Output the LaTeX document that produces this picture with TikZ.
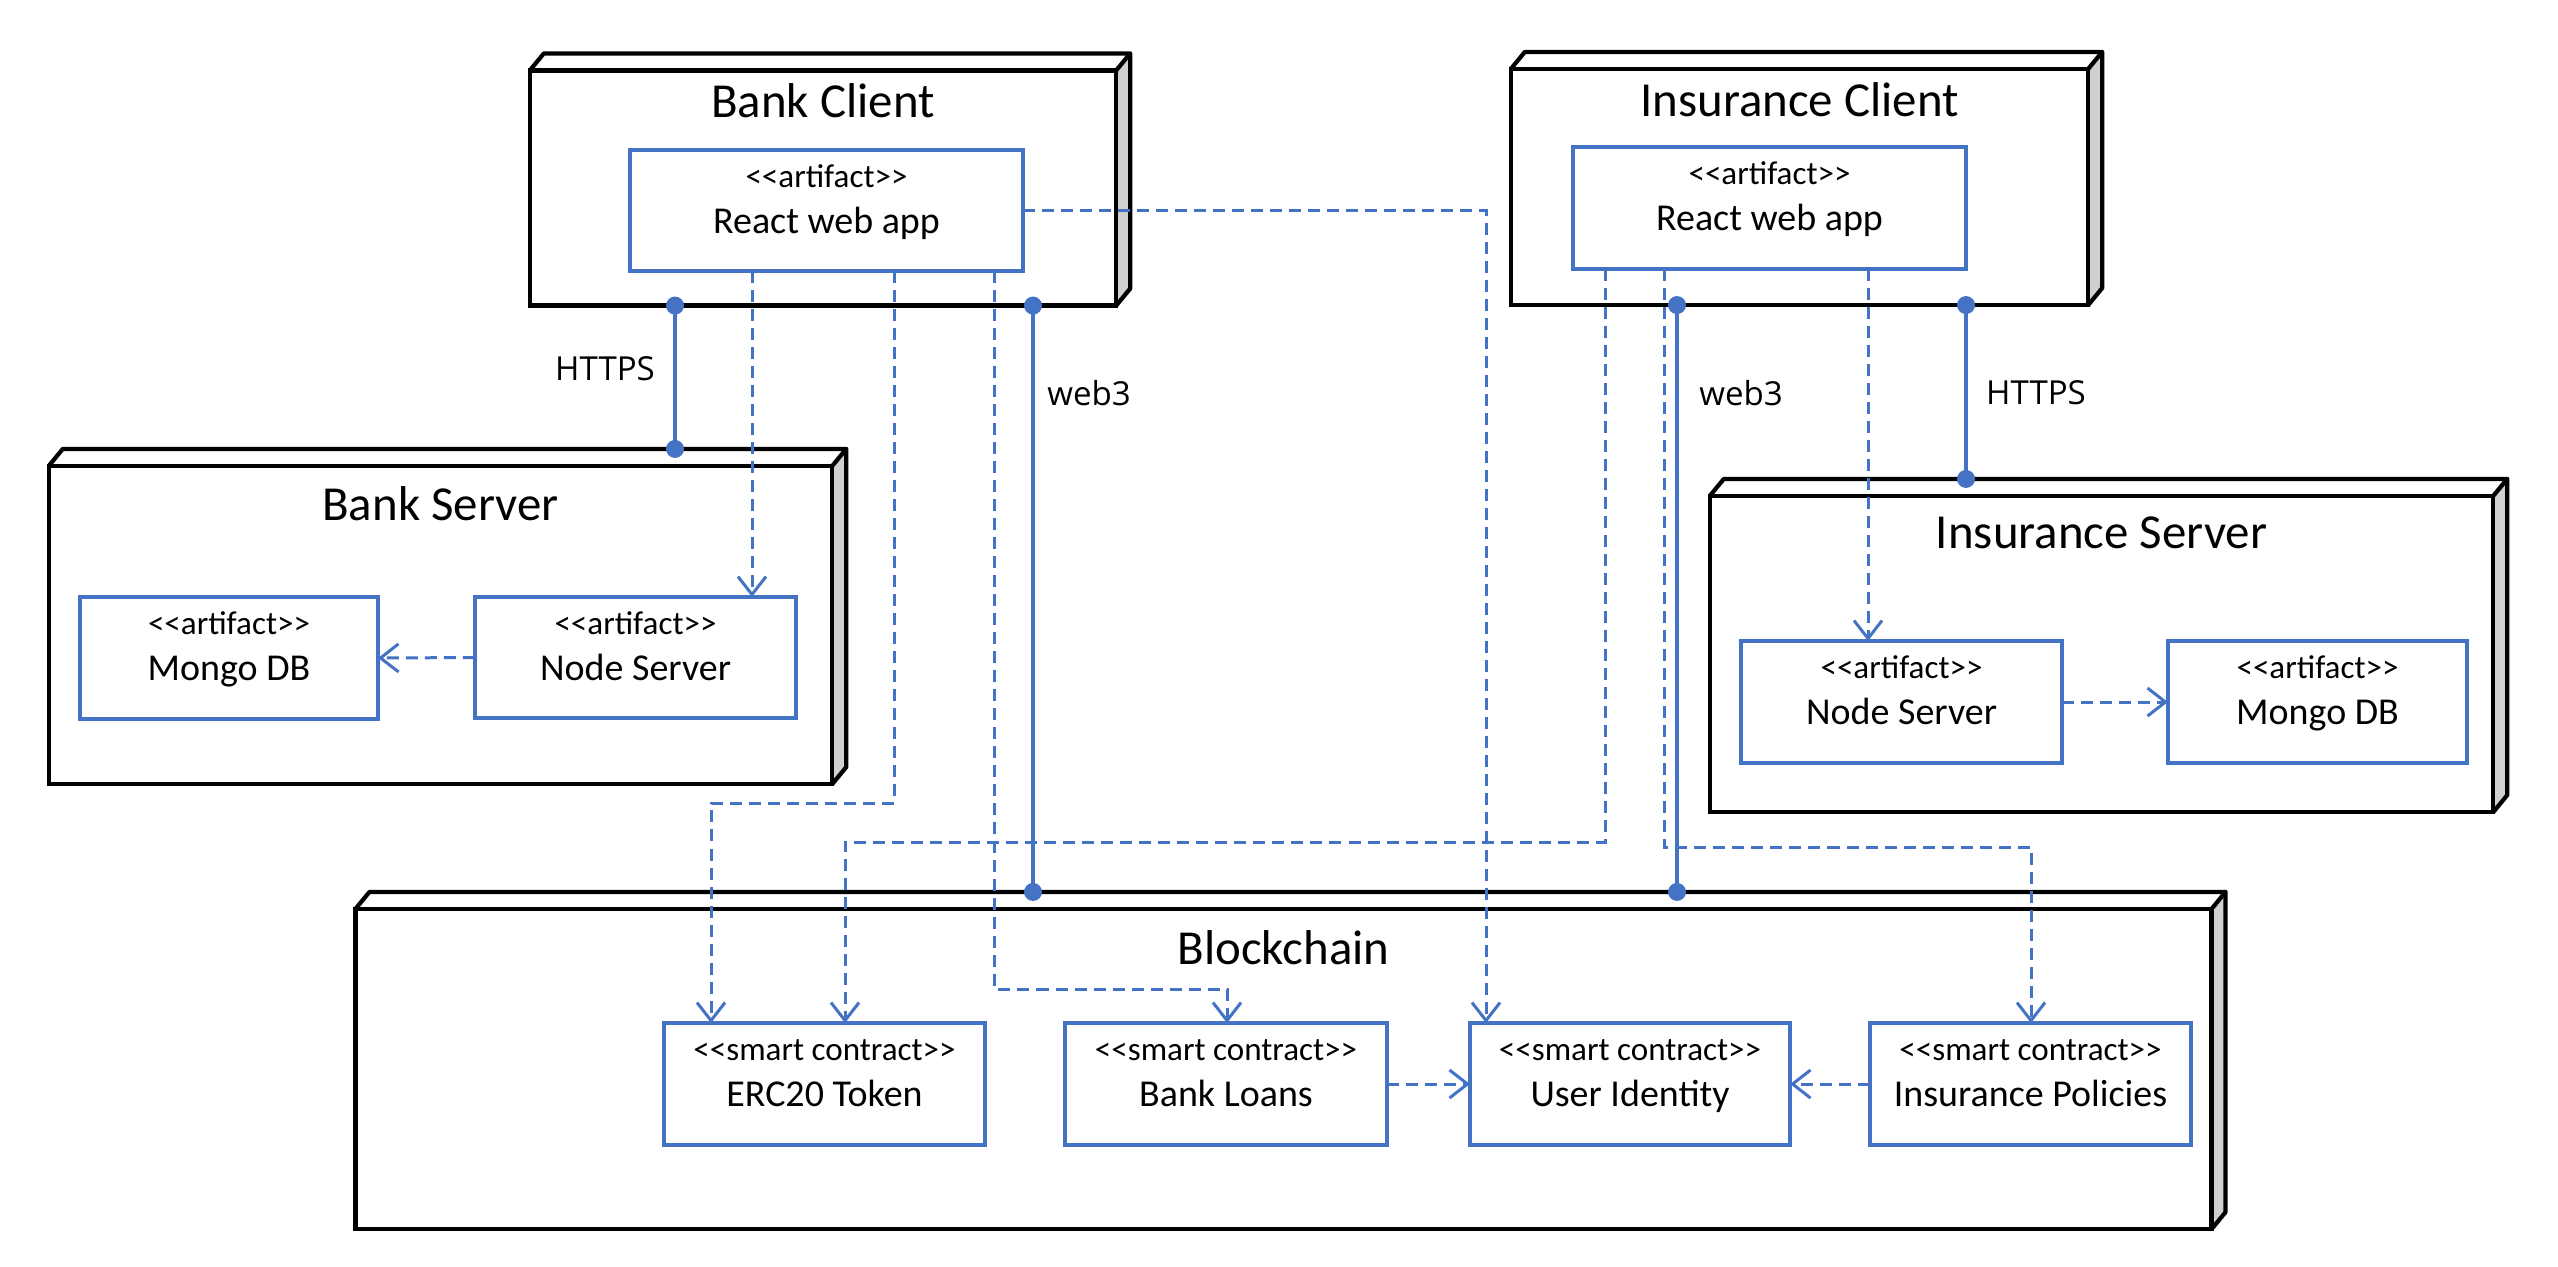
\documentclass[tikz,border=0pt]{standalone}
\usepackage{fontspec}
\setmainfont{Carlito}
\newfontfamily\lblfont{Open Sans}
\usetikzlibrary{arrows.meta,calc}
\definecolor{ublue}{HTML}{4472C4}
\definecolor{sidegray}{HTML}{D0D0D0}
\newcommand\stereo[1]{<\kern0pt<#1>\kern0pt>}
\tikzset{
  threed/.style={draw=black, line width=1.2pt, fill=white, inner sep=0pt, outer sep=0pt},
  art/.style={draw=ublue, line width=1.0pt, fill=white, inner sep=0pt, outer sep=0pt, minimum height=1.22cm},
  ttl/.style={font=\fontsize{13.9}{16}\selectfont, anchor=base},
  ster/.style={font=\fontsize{9.4}{11}\selectfont, anchor=base, inner sep=0pt},
  nm/.style={font=\fontsize{10.8}{13}\selectfont, anchor=base, inner sep=0pt},
  lbl/.style={font=\lblfont\fontsize{9.4}{11}\selectfont},
  dep/.style={draw=ublue, line width=0.85pt, dash pattern=on 0.12cm off 0.07cm,
    -{Straight Barb[length=0.18cm,width=0.28cm]}},
  conn/.style={draw=ublue, line width=0.9pt},
}
\newcommand\boxthreed[1]{%
  \fill[sidegray] (#1.north east) -- ++(14,-17) -- ([shift={(14,-17)}]#1.south east) -- (#1.south east) -- cycle;
  \draw[line width=1.2pt, line join=round] (#1.north west) -- ++(14,-17) -- ([shift={(14,-17)}]#1.north east)
     -- ([shift={(14,-17)}]#1.south east) -- (#1.south east);
  \draw[line width=1.2pt] (#1.north east) -- ++(14,-17);
  \draw[line width=1.2pt] (#1.north west) rectangle (#1.south east);
  \coordinate (#1B) at ([shift={(0,-17)}]#1.north);
}
\begin{document}
\begin{tikzpicture}[x=0.01cm,y=-0.01cm]
\useasboundingbox (0,0) rectangle (2558,1266);
\fill[white] (0,0) rectangle (2558,1266);

% 3D nodes
\node[threed, minimum width=5.86cm, minimum height=2.35cm] (bc) at (823,188) {};
\boxthreed{bc}
\node[threed, minimum width=5.77cm, minimum height=2.36cm] (ic) at (1799.5,187) {};
\boxthreed{ic}
\node[threed, minimum width=7.83cm, minimum height=3.18cm] (bs) at (440.5,625) {};
\boxthreed{bs}
\node[threed, minimum width=7.83cm, minimum height=3.16cm] (is) at (2101.5,654) {};
\boxthreed{is}
\node[threed, minimum width=18.55cm, minimum height=3.20cm] (blk) at (1283.5,1069) {};
\boxthreed{blk}

\node[ttl] (bcT) at ($(bc.north)+(0,47)$) {Bank Client};
\node[ttl] (icT) at ($(ic.north)+(0,48)$) {Insurance Client};
\node[ttl] (bsT) at ($(bs.north)+(0,55)$) {Bank Server};
\node[ttl] (isT) at ($(is.north)+(0,53)$) {Insurance Server};
\node[ttl] (blkT) at ($(blk.north)+(0,56)$) {Blockchain};

\coordinate (c3a) at (711,803);
\coordinate (c4a) at (1227,989);
\coordinate (c6a) at (845,842);
\coordinate (c7a) at (2031,847);

% inner boxes
\node[art, minimum width=3.93cm, minimum height=1.21cm] (bra) at (826.5,210.5) {};
\node[art, minimum width=3.93cm] (ira) at (1769.5,208) {};
\node[art, minimum width=2.98cm] (bmg) at (229,658) {};
\node[art, minimum width=3.21cm, minimum height=1.21cm] (bns) at (635.5,657.5) {};
\node[art, minimum width=3.21cm] (ins) at (1901.5,702) {};
\node[art, minimum width=2.99cm] (img) at (2317.5,702) {};
\node[art, minimum width=3.21cm] (erc) at (824.5,1084) {};
\node[art, minimum width=3.22cm] (blo) at (1226,1084) {};
\node[art, minimum width=3.20cm] (uid) at (1630,1084) {};
\node[art, minimum width=3.21cm] (ipo) at (2030.5,1084) {};

\foreach \b/\s/\n in {bra/artifact/React web app, ira/artifact/React web app,
  bmg/artifact/Mongo DB, bns/artifact/Node Server, ins/artifact/Node Server, img/artifact/Mongo DB,
  erc/smart contract/ERC20 Token, blo/smart contract/Bank Loans, uid/smart contract/User Identity,
  ipo/smart contract/Insurance Policies}{
  \node[ster] (\b S) at ($(\b.north)+(0,38)$) {\stereo{\s}};
  \node[nm] (\b N) at ($(\b.north)+(0,84)$) {\n};
}

% dependencies
\draw[dep] (bra.south -| 752,0) -- (bns.north -| 752,0);
\draw[dep] (bns.west) -- (bmg.east);
\draw[dep] (bra.south -| 894,0) |- (c3a) -- (erc.north -| c3a);
\draw[dep] (bra.south -| 994,0) |- (c4a) -- (blo.north -| c4a);
\draw[dep] (bra.east) -| (uid.north -| 1486,0);
\draw[dep] (ira.south -| 1605,0) |- (c6a) -- (erc.north -| c6a);
\draw[dep] (ira.south -| 1664,0) |- (c7a) -- (ipo.north -| c7a);
\draw[dep] (ira.south -| 1868,0) -- (ins.north -| 1868,0);
\draw[dep] (ins.east) -- (img.west);
\draw[dep] (blo.east) -- (uid.west);
\draw[dep] (ipo.west) -- (uid.east);

% solid connections
\coordinate (s1) at (675,0);
\coordinate (s2) at (1966,0);
\coordinate (s3) at (1033,0);
\coordinate (s4) at (1677,0);
\draw[conn] (bc.south -| s1) -- (bsB -| s1);
\draw[conn] (ic.south -| s2) -- (isB -| s2);
\draw[conn] (bc.south -| s3) -- (blkB -| s3);
\draw[conn] (ic.south -| s4) -- (blkB -| s4);
\foreach \p in {bc.south -| s1, bsB -| s1, ic.south -| s2, isB -| s2, bc.south -| s3, blkB -| s3, ic.south -| s4, blkB -| s4}
  \fill[ublue] (\p) circle[radius=0.09cm];

\node[lbl] (l1) at (605,369) {HTTPS};
\node[lbl] (l2) at (2036,393) {HTTPS};
\node[lbl] (l3) at (1089,393) {web3};
\node[lbl] (l4) at (1741,393) {web3};
\end{tikzpicture}
\end{document}
